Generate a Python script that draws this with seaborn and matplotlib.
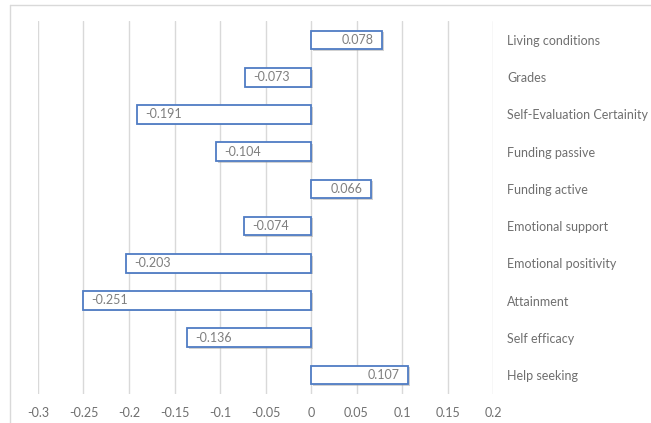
import matplotlib
matplotlib.use("Agg")
import matplotlib.pyplot as plt
import matplotlib.patheffects as pe
from matplotlib.lines import Line2D
import seaborn as sns
import pandas as pd

categories = ["Living conditions", "Grades", "Self-Evaluation Certainity", "Funding passive",
              "Funding active", "Emotional support", "Emotional positivity", "Attainment",
              "Self efficacy", "Help seeking"]
values = [0.078, -0.073, -0.191, -0.104, 0.066, -0.074, -0.203, -0.251, -0.136, 0.107]
xticks = [-0.3, -0.25, -0.2, -0.15, -0.1, -0.05, 0, 0.05, 0.1, 0.15, 0.2]
xticklabels = ["-0.3", "-0.25", "-0.2", "-0.15", "-0.1", "-0.05", "0", "0.05", "0.1", "0.15", "0.2"]

sns.set_theme(style="white")
plt.rcParams['font.family'] = ['Lato', 'DejaVu Sans']

W, H = 651, 423
fig = plt.figure(figsize=(W / 100, H / 100), dpi=100)
ax = fig.add_axes([38 / W, 1 - 393.5 / H, (493 - 38) / W, (393.5 - 21.5) / H])

df = pd.DataFrame({"cat": categories, "val": values})
sns.barplot(data=df, x="val", y="cat", orient="h", ax=ax, color="white",
            edgecolor="#4F7CC4", linewidth=1.3, width=0.5, saturation=1)

for p in ax.patches:
    p.set_path_effects([pe.SimplePatchShadow(offset=(1.2, -1.2), shadow_rgbFace="#999999", alpha=0.45),
                        pe.Normal()])
    p.set_zorder(3)

ax.set_xlim(-0.3, 0.2)
ax.set_ylim(9.5, -0.5)
ax.set_xticks(xticks)
ax.set_xticklabels(xticklabels)
for x in xticks:
    ax.axvline(x, color="#D9D9D9", lw=1, zorder=0)

for i, v in enumerate(values):
    if v < 0:
        ax.annotate(f"{v:.3f}", (v, i), xytext=(6, 0), textcoords="offset points",
                    ha="left", va="center", fontsize=9, color="#7F7F7F", zorder=5)
    else:
        ax.annotate(f"{v:.3f}", (v, i), xytext=(-6, 0), textcoords="offset points",
                    ha="right", va="center", fontsize=9, color="#7F7F7F", zorder=5)

ax.yaxis.tick_right()
ax.tick_params(axis="y", length=0, pad=10, labelsize=9, labelcolor="#6F6F6F")
ax.tick_params(axis="x", length=0, pad=10, labelsize=9, labelcolor="#6F6F6F")
ax.set_xlabel("")
ax.set_ylabel("")
for s in ax.spines.values():
    s.set_visible(False)

# outer chart frame
fig.add_artist(Line2D([10 / W, 1], [1 - 5 / H, 1 - 5 / H], transform=fig.transFigure, color="#D9D9D9", lw=1))
fig.add_artist(Line2D([10 / W, 10 / W], [0, 1 - 5 / H], transform=fig.transFigure, color="#D9D9D9", lw=1))

fig.savefig("out.png", dpi=100)
